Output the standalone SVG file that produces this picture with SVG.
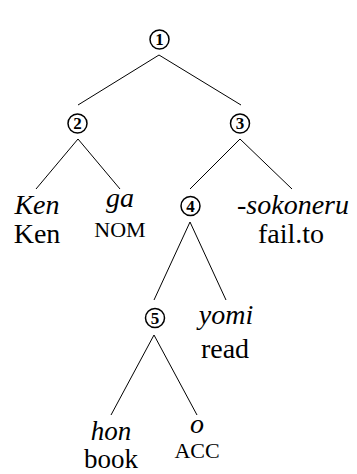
<svg xmlns="http://www.w3.org/2000/svg" width="357" height="474" viewBox="0 0 357 474">
<style>
.bg{fill:#ffffff}
.edge{stroke:#000;stroke-width:1;fill:none}
.ring{fill:#fff;stroke:#000;stroke-width:1.5}
.num{font-family:'Liberation Serif',serif;font-weight:bold;font-size:17px;text-anchor:middle;fill:#000}
.it{font-family:'Liberation Serif',serif;font-style:italic;font-size:28px;text-anchor:middle;fill:#000}
.rm{font-family:'Liberation Serif',serif;font-size:28px;text-anchor:middle;fill:#000}
.sc{font-family:'Liberation Serif',serif;font-size:22px;text-anchor:middle;fill:#000}
.sm{font-size:27px}
</style>
<rect class="bg" x="0" y="0" width="357" height="474"/>
<g id="connectors">
<line class="edge" x1="159" y1="55" x2="78" y2="105"/>
<line class="edge" x1="159" y1="55" x2="241" y2="105"/>
<line class="edge" x1="78" y1="139" x2="36" y2="189"/>
<line class="edge" x1="78" y1="139" x2="120" y2="189"/>
<line class="edge" x1="240" y1="139" x2="190" y2="189"/>
<line class="edge" x1="240" y1="139" x2="292" y2="189"/>
<line class="edge" x1="190" y1="222" x2="154" y2="300"/>
<line class="edge" x1="190" y1="222" x2="226" y2="300"/>
<line class="edge" x1="154" y1="335" x2="111" y2="415"/>
<line class="edge" x1="154" y1="335" x2="197" y2="415"/>
</g>
<g id="n1"><circle class="ring" cx="159.5" cy="39.5" r="9.5"/><text class="num" x="159.5" y="45.3">1</text></g>
<g id="n2"><circle class="ring" cx="77.5" cy="123.5" r="9.5"/><text class="num" x="77.5" y="129.3">2</text></g>
<g id="n3"><circle class="ring" cx="240" cy="123.5" r="9.5"/><text class="num" x="240" y="129.3">3</text></g>
<g id="n4"><circle class="ring" cx="190.5" cy="206" r="9.5"/><text class="num" x="190.5" y="211.8">4</text></g>
<g id="n5"><circle class="ring" cx="155" cy="318" r="9.5"/><text class="num" x="155" y="323.8">5</text></g>
<g id="ken"><text class="it" x="37" y="214">Ken</text><text class="rm" x="37" y="243">Ken</text></g>
<g id="ga"><text class="it" x="120" y="207">ga</text><text class="sc" x="120" y="237">NOM</text></g>
<g id="sokoneru"><text class="it" x="293" y="214">-sokoneru</text><text class="rm" x="291" y="243">fail.to</text></g>
<g id="yomi"><text class="it" x="226" y="324">yomi</text><text class="rm" x="225" y="358">read</text></g>
<g id="hon"><text class="it sm" x="111" y="440">hon</text><text class="rm sm" x="111" y="468">book</text></g>
<g id="o"><text class="it" x="197" y="433">o</text><text class="sc" x="197" y="458">ACC</text></g>
</svg>
